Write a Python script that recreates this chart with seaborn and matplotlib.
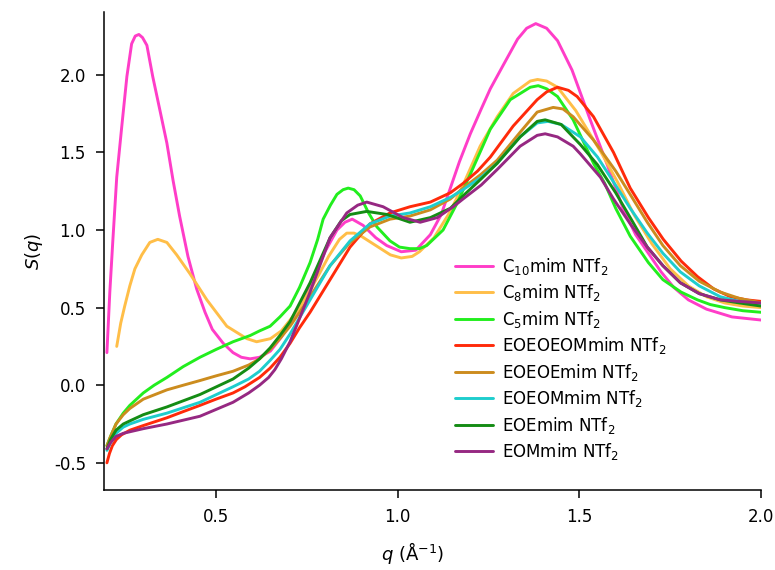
import matplotlib
matplotlib.use('Agg')
import matplotlib.pyplot as plt
import numpy as np
import pandas as pd
import seaborn as sns

# Structure factor S(q) of the ionic liquids
q_c10 = [0.200, 0.208, 0.216, 0.227, 0.241, 0.255, 0.268, 0.278, 0.288, 0.298, 0.310,
         0.326, 0.346, 0.365, 0.382, 0.400, 0.423, 0.447, 0.470, 0.490, 0.520, 0.547,
         0.570, 0.594, 0.620, 0.650, 0.680, 0.704, 0.730, 0.759, 0.800, 0.833, 0.855,
         0.875, 0.905, 0.940, 0.970, 1.010, 1.050, 1.090, 1.120, 1.145, 1.170, 1.200,
         1.230, 1.255, 1.290, 1.330, 1.355, 1.380, 1.410, 1.440, 1.480, 1.530, 1.580,
         1.620, 1.655, 1.690, 1.725, 1.760, 1.800, 1.850, 1.920, 2.000]
s_c10 = [0.21, 0.60, 0.92, 1.34, 1.67, 1.99, 2.20, 2.25, 2.26, 2.24, 2.19,
         1.99, 1.77, 1.56, 1.32, 1.09, 0.83, 0.62, 0.47, 0.36, 0.27, 0.21,
         0.18, 0.17, 0.18, 0.22, 0.31, 0.40, 0.51, 0.64, 0.86, 1.00, 1.05,
         1.07, 1.03, 0.95, 0.90, 0.86, 0.87, 0.97, 1.10, 1.27, 1.44, 1.62,
         1.78, 1.91, 2.06, 2.23, 2.30, 2.33, 2.30, 2.22, 2.03, 1.71, 1.40,
         1.14, 0.97, 0.85, 0.73, 0.63, 0.55, 0.49, 0.44, 0.42]

q_c8 = [0.227, 0.238, 0.249, 0.263, 0.277, 0.296, 0.318, 0.340, 0.365, 0.392, 0.428,
        0.475, 0.530, 0.585, 0.612, 0.650, 0.680, 0.704, 0.730, 0.759, 0.785, 0.810,
        0.840, 0.860, 0.880, 0.900, 0.940, 0.980, 1.010, 1.040, 1.060, 1.100, 1.145,
        1.180, 1.227, 1.274, 1.318, 1.365, 1.385, 1.410, 1.440, 1.490, 1.560, 1.605,
        1.650, 1.700, 1.750, 1.800, 1.850, 1.900, 1.950, 2.000]
s_c8 = [0.25, 0.40, 0.51, 0.64, 0.75, 0.84, 0.92, 0.94, 0.92, 0.84, 0.72,
        0.55, 0.38, 0.30, 0.28, 0.30, 0.35, 0.42, 0.50, 0.61, 0.72, 0.83,
        0.94, 0.98, 0.98, 0.96, 0.90, 0.84, 0.82, 0.83, 0.86, 0.95, 1.12,
        1.29, 1.54, 1.73, 1.88, 1.96, 1.97, 1.96, 1.92, 1.77, 1.50, 1.31,
        1.10, 0.91, 0.75, 0.64, 0.57, 0.53, 0.51, 0.50]

q_c5 = [0.200, 0.210, 0.225, 0.245, 0.263, 0.300, 0.330, 0.365, 0.410, 0.456, 0.500,
        0.547, 0.594, 0.620, 0.649, 0.676, 0.704, 0.730, 0.759, 0.780, 0.795, 0.815,
        0.833, 0.850, 0.864, 0.880, 0.897, 0.920, 0.943, 0.979, 1.005, 1.034, 1.060,
        1.080, 1.125, 1.163, 1.200, 1.255, 1.310, 1.365, 1.387, 1.410, 1.440, 1.483,
        1.539, 1.570, 1.600, 1.640, 1.690, 1.730, 1.780, 1.825, 1.860, 1.900, 1.950,
        2.000]
s_c5 = [-0.39, -0.33, -0.25, -0.18, -0.13, -0.05, 0.00, 0.05, 0.12, 0.18, 0.23,
        0.28, 0.32, 0.35, 0.38, 0.44, 0.51, 0.63, 0.79, 0.94, 1.07, 1.16,
        1.23, 1.26, 1.27, 1.26, 1.22, 1.11, 1.02, 0.93, 0.89, 0.88, 0.88,
        0.90, 1.00, 1.17, 1.36, 1.65, 1.84, 1.92, 1.93, 1.91, 1.86, 1.71,
        1.43, 1.30, 1.14, 0.96, 0.79, 0.68, 0.60, 0.55, 0.52, 0.50, 0.48,
        0.47]

q_eoeoeom = [0.200, 0.207, 0.215, 0.226, 0.240, 0.263, 0.300, 0.365, 0.410, 0.456, 0.500,
             0.547, 0.580, 0.620, 0.649, 0.676, 0.704, 0.730, 0.759, 0.814, 0.869, 0.924,
             0.979, 1.034, 1.090, 1.145, 1.180, 1.220, 1.255, 1.318, 1.384, 1.410, 1.440,
             1.470, 1.494, 1.539, 1.594, 1.640, 1.690, 1.731, 1.780, 1.825, 1.870, 1.916,
             1.960, 2.000]
s_eoeoeom = [-0.50, -0.44, -0.39, -0.35, -0.32, -0.29, -0.26, -0.21, -0.17, -0.13, -0.09,
             -0.05, -0.01, 0.05, 0.11, 0.18, 0.27, 0.37, 0.47, 0.68, 0.89, 1.04,
             1.11, 1.15, 1.18, 1.24, 1.30, 1.38, 1.47, 1.67, 1.84, 1.89, 1.92,
             1.90, 1.86, 1.73, 1.50, 1.27, 1.08, 0.94, 0.80, 0.70, 0.62, 0.57,
             0.55, 0.54]

q_eoeoe = [0.200, 0.210, 0.225, 0.245, 0.263, 0.300, 0.365, 0.410, 0.456, 0.500, 0.547,
           0.590, 0.620, 0.649, 0.676, 0.704, 0.759, 0.814, 0.869, 0.924, 0.979, 1.034,
           1.090, 1.145, 1.180, 1.230, 1.274, 1.337, 1.384, 1.428, 1.455, 1.483, 1.539,
           1.600, 1.645, 1.687, 1.730, 1.778, 1.830, 1.888, 1.940, 2.000]
s_eoeoe = [-0.39, -0.33, -0.25, -0.19, -0.15, -0.09, -0.03, 0.00, 0.03, 0.06, 0.09,
           0.13, 0.17, 0.23, 0.30, 0.38, 0.57, 0.77, 0.92, 1.02, 1.07, 1.09,
           1.13, 1.20, 1.27, 1.36, 1.45, 1.63, 1.76, 1.79, 1.78, 1.73, 1.58,
           1.38, 1.21, 1.05, 0.90, 0.77, 0.67, 0.60, 0.56, 0.53]

q_eoeom = [0.200, 0.210, 0.225, 0.245, 0.263, 0.300, 0.365, 0.456, 0.547, 0.590, 0.620,
           0.649, 0.676, 0.704, 0.759, 0.814, 0.869, 0.924, 0.979, 1.034, 1.090, 1.145,
           1.180, 1.230, 1.274, 1.337, 1.384, 1.414, 1.450, 1.503, 1.550, 1.594, 1.640,
           1.687, 1.730, 1.778, 1.830, 1.888, 1.940, 2.000]
s_eoeom = [-0.42, -0.37, -0.31, -0.27, -0.25, -0.22, -0.18, -0.11, -0.01, 0.04, 0.09,
           0.16, 0.23, 0.33, 0.55, 0.77, 0.93, 1.04, 1.09, 1.11, 1.15, 1.21,
           1.26, 1.34, 1.43, 1.60, 1.69, 1.70, 1.68, 1.60, 1.47, 1.31, 1.14,
           0.98, 0.85, 0.73, 0.64, 0.57, 0.54, 0.52]

q_eoe = [0.200, 0.210, 0.225, 0.245, 0.263, 0.300, 0.365, 0.456, 0.547, 0.590, 0.620,
         0.649, 0.676, 0.704, 0.759, 0.814, 0.845, 0.869, 0.915, 0.971, 1.034, 1.090,
         1.145, 1.180, 1.230, 1.274, 1.337, 1.384, 1.406, 1.450, 1.503, 1.550, 1.600,
         1.645, 1.687, 1.730, 1.778, 1.830, 1.888, 1.940, 2.000]
s_eoe = [-0.41, -0.35, -0.29, -0.25, -0.23, -0.19, -0.14, -0.06, 0.04, 0.11, 0.17,
         0.24, 0.32, 0.41, 0.66, 0.95, 1.06, 1.10, 1.12, 1.10, 1.05, 1.08,
         1.14, 1.22, 1.33, 1.43, 1.60, 1.70, 1.71, 1.68, 1.55, 1.42, 1.24,
         1.06, 0.89, 0.77, 0.66, 0.59, 0.55, 0.53, 0.51]

q_eom = [0.200, 0.210, 0.225, 0.245, 0.263, 0.300, 0.365, 0.456, 0.547, 0.590, 0.620,
         0.645, 0.662, 0.680, 0.704, 0.730, 0.759, 0.814, 0.860, 0.890, 0.915, 0.960,
         1.015, 1.062, 1.109, 1.153, 1.180, 1.230, 1.274, 1.337, 1.384, 1.406, 1.440,
         1.483, 1.503, 1.558, 1.594, 1.640, 1.687, 1.730, 1.778, 1.830, 1.888, 1.940,
         2.000]
s_eom = [-0.41, -0.37, -0.33, -0.31, -0.30, -0.28, -0.25, -0.20, -0.11, -0.05, 0.00,
         0.05, 0.10, 0.17, 0.28, 0.43, 0.60, 0.95, 1.11, 1.16, 1.18, 1.15,
         1.08, 1.05, 1.08, 1.15, 1.20, 1.29, 1.39, 1.54, 1.61, 1.62, 1.60,
         1.54, 1.49, 1.34, 1.20, 1.04, 0.89, 0.77, 0.66, 0.59, 0.55, 0.54,
         0.53]

names = [r'C$_{10}$mim NTf$_2$', r'C$_8$mim NTf$_2$', r'C$_5$mim NTf$_2$',
         r'EOEOEOMmim NTf$_2$', r'EOEOEmim NTf$_2$', r'EOEOMmim NTf$_2$',
         r'EOEmim NTf$_2$', r'EOMmim NTf$_2$']
colors = ['#FF3DC8', '#FFBE48', '#22EE1E', '#FF2A0A', '#CC8C1E', '#1ECDCD', '#148C14', '#962882']

series = [(q_c10, s_c10), (q_c8, s_c8), (q_c5, s_c5), (q_eoeoeom, s_eoeoeom),
          (q_eoeoe, s_eoeoe), (q_eoeom, s_eoeom), (q_eoe, s_eoe), (q_eom, s_eom)]

frames = []
for name, (q, s) in zip(names, series):
    frames.append(pd.DataFrame({'q': q, 'S': s, 'liquid': name}))
df = pd.concat(frames, ignore_index=True)

sns.set_style('ticks')
plt.rcParams['font.family'] = ['DejaVu Sans']
plt.rcParams['mathtext.default'] = 'regular'
for key in ['text.color', 'axes.labelcolor', 'xtick.color', 'ytick.color', 'axes.edgecolor']:
    plt.rcParams[key] = 'black'

fig = plt.figure(figsize=(7.75, 5.7), dpi=100)
ax = fig.add_axes([0.1342, 0.1404, 0.8478, 0.8386])

sns.lineplot(data=df, x='q', y='S', hue='liquid', hue_order=names, palette=colors,
             sort=False, estimator=None, linewidth=2.1, ax=ax)
for line in ax.get_lines():
    line.set_solid_joinstyle('round')
    line.set_solid_capstyle('round')

ax.set_xlim(0.192, 2.0)
ax.set_ylim(-0.675, 2.405)
ax.set_xticks([0.5, 1.0, 1.5, 2.0])
ax.set_yticks([-0.5, 0.0, 0.5, 1.0, 1.5, 2.0])
ax.xaxis.set_major_formatter(matplotlib.ticker.FormatStrFormatter('%.1f'))
ax.yaxis.set_major_formatter(matplotlib.ticker.FormatStrFormatter('%.1f'))
ax.tick_params(direction='out', length=6, width=1.1, labelsize=12, pad=7,
               colors='black', labelcolor='black')
sns.despine(ax=ax)
for side in ['left', 'bottom']:
    ax.spines[side].set_linewidth(1.1)
    ax.spines[side].set_color('black')

ax.set_xlabel(r'$\mathit{q}$ (Å$^{-1}$)', fontsize=13, color='black')
ax.set_ylabel(r'$\mathit{S}$($\mathit{q}$)', fontsize=13, color='black')
ax.xaxis.set_label_coords(0.47, -0.105)
ax.yaxis.set_label_coords(-0.09, 0.5)

handles, labels = ax.get_legend_handles_labels()
leg = ax.legend(handles, labels, loc='upper left', bbox_to_anchor=(0.534, 0.49),
                frameon=False, fontsize=12, handlelength=2.3, handletextpad=0.55,
                labelspacing=0.33, borderpad=0, borderaxespad=0)
for text in leg.get_texts():
    text.set_color('black')

fig.savefig('out.png', dpi=100)
